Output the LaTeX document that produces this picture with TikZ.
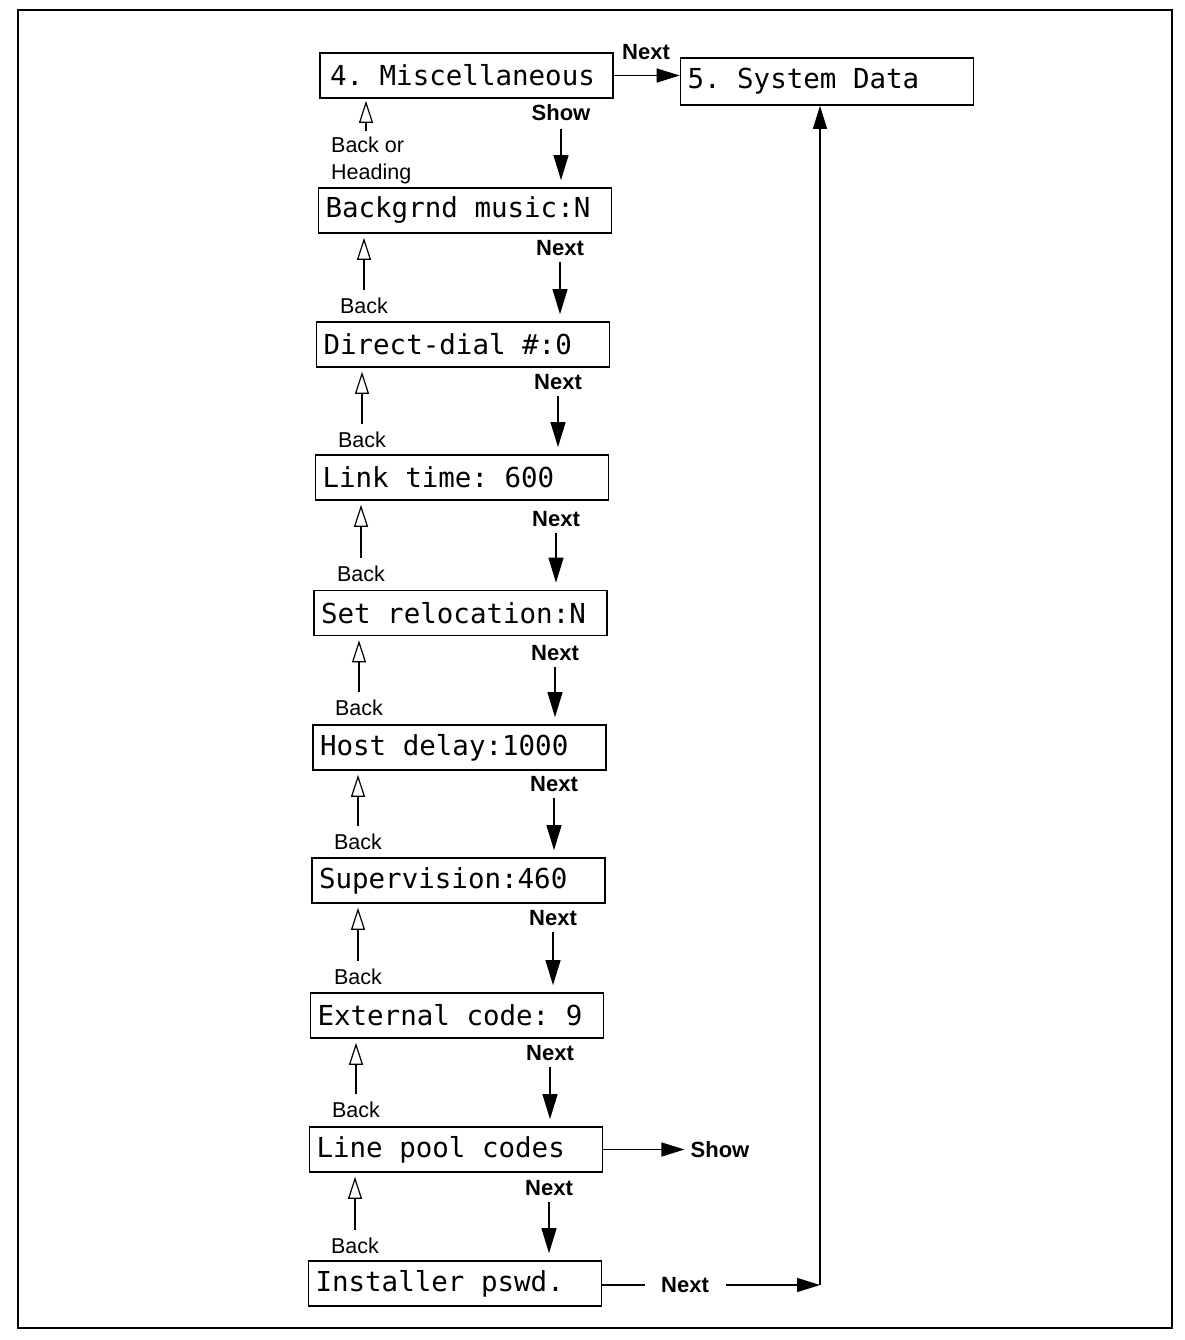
\documentclass[tikz,border=0pt]{standalone}
\usepackage{fontspec}
\setmainfont{Liberation Sans}
\newfontfamily\lcdfont{DejaVu Sans Mono}
\newcommand\lcdsp{\hspace*{0.602em}}
\usetikzlibrary{arrows.meta}
\begin{document}
\begin{tikzpicture}[x=1pt,y=-1pt,
  lcdbox/.style={draw,line width=1.7pt,minimum width=293pt,minimum height=45pt,
    inner xsep=7pt,text width=279pt,align=left,
    font=\lcdfont\fontsize{27.5}{27.5}\selectfont},
  backlbl/.style={inner sep=0pt,font=\fontsize{21.5}{27}\selectfont},
  nextlbl/.style={inner sep=0pt,font=\bfseries\fontsize{22}{26}\selectfont},
  nextarr/.style={line width=1.2pt,-{Triangle[length=25pt,width=15pt]},shorten <=6pt,shorten >=7pt},
  backarr/.style={line width=1.2pt,-{Triangle[open,length=22pt,width=14pt]},shorten <=8pt,shorten >=4pt},
  harr/.style={line width=1.4pt,-{Triangle[length=23pt,width=14pt]}},
  plainline/.style={line width=1.4pt}
]
\useasboundingbox (0,0) rectangle (1184,1340);
\draw[line width=1.5pt] (18,10) rectangle (1172,1328);

% boxes
\node[lcdbox,inner xsep=10pt,text width=273pt] (b1) at (466.5,75.5) {4.\lcdsp Miscellaneous};
\node[lcdbox,minimum height=47pt] (b2) at (827,81.5) {5.\lcdsp System\lcdsp Data};
\node[lcdbox] (b3) at (465,210.5) {Backgrnd\lcdsp music:N};
\node[lcdbox] (b4) at (463,344.5) {Direct-dial\lcdsp\#:0};
\node[lcdbox] (b5) at (462,477.5) {Link\lcdsp time:\lcdsp 600};
\node[lcdbox] (b6) at (460.5,613) {Set\lcdsp relocation:N};
\node[lcdbox] (b7) at (459.5,747.5) {Host\lcdsp delay:1000};
\node[lcdbox] (b8) at (458.5,880.5) {Supervision:460};
\node[lcdbox] (b9) at (457,1015.5) {External\lcdsp code:\lcdsp 9};
\node[lcdbox] (b10) at (456,1149.5) {Line\lcdsp pool\lcdsp codes};
\node[lcdbox] (b11) at (455,1283.5) {Installer\lcdsp pswd.};

% top row
\node[nextlbl] (nx1) at (646,52) {Next};
\draw[harr] (b1.east) -- (b1.east -| b2.west);

% Show / Back or Heading
\node[nextlbl] (s1) at (561,113) {Show};
\draw[nextarr,shorten <=8pt] (s1.south) -- (s1.south |- b3.north);
\node[backlbl,anchor=north west,align=left] (k3) at (331,137) {Back or\\Heading};
\coordinate (k3a) at (366,131);
\draw[backarr,shorten <=0pt,shorten >=2pt] (k3a) -- (k3a |- b1.south);

% Next labels
\node[nextlbl] (n3) at (560,248) {Next};
\node[nextlbl] (n4) at (558,382) {Next};
\node[nextlbl] (n5) at (556,519) {Next};
\node[nextlbl] (n6) at (555,653) {Next};
\node[nextlbl] (n7) at (554,784) {Next};
\node[nextlbl] (n8) at (553,918) {Next};
\node[nextlbl] (n9) at (550,1053) {Next};
\node[nextlbl] (n10) at (549,1188) {Next};
\draw[nextarr] (n3.south) -- (n3.south |- b4.north);
\draw[nextarr] (n4.south) -- (n4.south |- b5.north);
\draw[nextarr] (n5.south) -- (n5.south |- b6.north);
\draw[nextarr] (n6.south) -- (n6.south |- b7.north);
\draw[nextarr] (n7.south) -- (n7.south |- b8.north);
\draw[nextarr] (n8.south) -- (n8.south |- b9.north);
\draw[nextarr] (n9.south) -- (n9.south |- b10.north);
\draw[nextarr] (n10.south) -- (n10.south |- b11.north);

% Back labels
\node[backlbl] (k4) at (364,306) {Back};
\node[backlbl] (k5) at (362,440) {Back};
\node[backlbl] (k6) at (361,574) {Back};
\node[backlbl] (k7) at (359,708) {Back};
\node[backlbl] (k8) at (358,842) {Back};
\node[backlbl] (k9) at (358,977) {Back};
\node[backlbl] (k10) at (356,1110) {Back};
\node[backlbl] (k11) at (355,1246) {Back};
\draw[backarr] (k4.north) -- (k4.north |- b3.south);
\draw[backarr] (k5.north) -- (k5.north |- b4.south);
\draw[backarr] (k6.north) -- (k6.north |- b5.south);
\draw[backarr] (k7.north) -- (k7.north |- b6.south);
\draw[backarr] (k8.north) -- (k8.north |- b7.south);
\draw[backarr] (k9.north) -- (k9.north |- b8.south);
\draw[backarr] (k10.north) -- (k10.north |- b9.south);
\draw[backarr] (k11.north) -- (k11.north |- b10.south);

% Line pool codes -> Show
\node[nextlbl] (s2) at (720,1149.5) {Show};
\draw[harr,shorten >=6pt] (b10.east) -- (s2.west);

% Installer -> Next -> System Data
\node[nextlbl] (nx2) at (685,1285) {Next};
\coordinate (c1) at (820,1285);
\draw[plainline,shorten >=16pt] (b11.east |- nx2.west) -- (nx2.west);
\draw[harr,shorten <=17pt] (nx2.east) -- (c1);
\draw[harr] (c1) -- (c1 |- b2.south);
\end{tikzpicture}
\end{document}
